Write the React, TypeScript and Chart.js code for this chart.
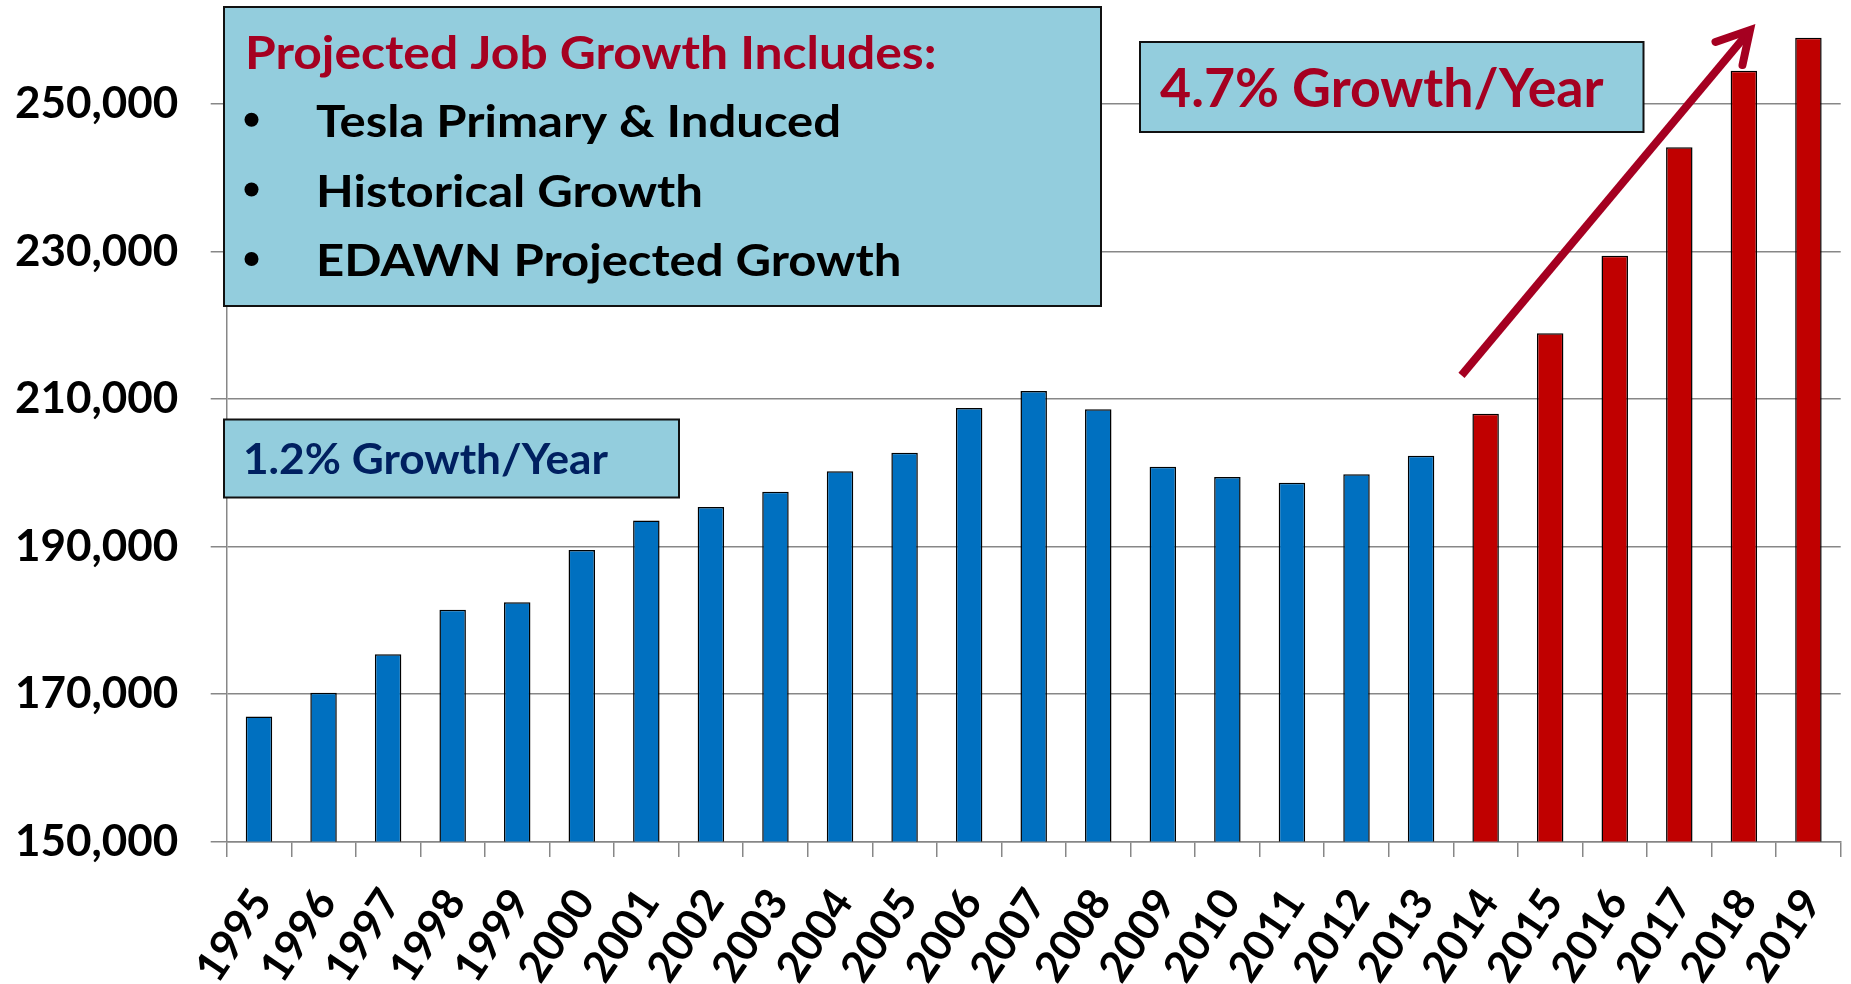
import React, { useEffect, useRef } from 'react';
import { Chart, registerables } from 'chart.js';

Chart.register(...registerables);

// ---- Data ----
const years = [
  '1995', '1996', '1997', '1998', '1999', '2000', '2001', '2002', '2003', '2004',
  '2005', '2006', '2007', '2008', '2009', '2010', '2011', '2012', '2013',
  '2014', '2015', '2016', '2017', '2018', '2019',
];
const historicalJobs = [
  166950, 170180, 175400, 181440, 182430, 189520, 193540, 195360, 197430, 200200,
  202720, 208780, 211090, 208600, 200820, 199420, 198650, 199790, 202310,
];
const projectedJobs = [208000, 218900, 229430, 244130, 254520, 258990];
const yTickValues = [150000, 170000, 190000, 210000, 230000, 250000];
const yMin = 150000;
const yMax = 260000;

// ---- Annotation text ----
const boxTitle = 'Projected Job Growth Includes:';
const boxBullets = ['Tesla Primary & Induced', 'Historical Growth', 'EDAWN Projected Growth'];
const projectedRate = '4.7% Growth/Year';
const historicalRate = '1.2% Growth/Year';

// ---- Styles ----
const FONT = 'Lato';
const blue = '#0070C0';
const red = '#C00000';
const darkRed = '#A50021';
const navy = '#002060';
const boxFill = '#93CDDD';
const gridColor = '#878787';

function drawBox(ctx: CanvasRenderingContext2D, x: number, y: number, w: number, h: number) {
  ctx.fillStyle = boxFill;
  ctx.fillRect(x, y, w, h);
  ctx.strokeStyle = '#111111';
  ctx.lineWidth = 2;
  ctx.strokeRect(x, y, w, h);
}

function drawText(
  ctx: CanvasRenderingContext2D,
  text: string,
  x: number,
  y: number,
  size: number,
  color: string,
  sx: number
) {
  ctx.save();
  ctx.translate(x, y);
  ctx.scale(sx, 1);
  ctx.font = `bold ${size}px ${FONT}`;
  ctx.fillStyle = color;
  ctx.textAlign = 'left';
  ctx.textBaseline = 'alphabetic';
  ctx.fillText(text, 0, 0);
  ctx.restore();
}

const annotationPlugin = {
  id: 'annotations',
  afterDraw(chart: any) {
    const ctx: CanvasRenderingContext2D = chart.ctx;
    ctx.save();

    // Big info box
    drawBox(ctx, 224, 7, 877, 299);
    drawText(ctx, boxTitle, 245, 69, 45, darkRed, 1.106);
    const baselines = [136.7, 206.5, 276];
    boxBullets.forEach((t, i) => {
      ctx.fillStyle = '#000000';
      ctx.beginPath();
      ctx.arc(251.5, baselines[i] - 17, 7, 0, Math.PI * 2);
      ctx.fill();
      drawText(ctx, t, 316, baselines[i], 44, '#000000', 1.115);
    });

    // Historical rate box
    drawBox(ctx, 224, 419.5, 455, 78);
    drawText(ctx, historicalRate, 243, 474, 42.6, navy, 1.037);

    // Projected rate box
    drawBox(ctx, 1140, 42, 503.5, 90);
    drawText(ctx, projectedRate, 1160, 106.5, 53, darkRed, 1.013);

    // Arrow
    const tail = { x: 1461.5, y: 375.4 };
    const tip = { x: 1750, y: 30 };
    ctx.strokeStyle = darkRed;
    ctx.lineWidth = 8;
    ctx.lineCap = 'butt';
    ctx.beginPath();
    ctx.moveTo(tail.x, tail.y);
    ctx.lineTo(tip.x - 3, tip.y + 4);
    ctx.stroke();
    ctx.lineCap = 'round';
    ctx.lineJoin = 'miter';
    ctx.beginPath();
    ctx.moveTo(1715.5, 42);
    ctx.lineTo(tip.x, tip.y);
    ctx.lineTo(1742.5, 65);
    ctx.stroke();

    ctx.restore();
  },
};

export default function App() {
  const canvasRef = useRef<HTMLCanvasElement | null>(null);

  useEffect(() => {
    document.body.style.margin = '0';
    const canvas = canvasRef.current;
    if (!canvas) return;
    const histData = years.map((_, i) => (i < historicalJobs.length ? historicalJobs[i] : null));
    const projData = years.map((_, i) =>
      i >= historicalJobs.length ? projectedJobs[i - historicalJobs.length] : null
    );

    const chart = new Chart(canvas, {
      type: 'bar',
      data: {
        labels: years,
        datasets: [
          {
            label: 'Historical',
            data: histData,
            backgroundColor: blue,
            borderColor: '#000000',
            borderWidth: 1.5,
            barPercentage: 0.41,
            categoryPercentage: 1,
            grouped: false,
          },
          {
            label: 'Projected',
            data: projData,
            backgroundColor: red,
            borderColor: '#000000',
            borderWidth: 1.5,
            barPercentage: 0.41,
            categoryPercentage: 1,
            grouped: false,
          },
        ],
      },
      options: {
        responsive: false,
        animation: false,
        devicePixelRatio: 1,
        layout: { padding: { left: 0, right: 10.3, top: 30.25, bottom: 0 } },
        plugins: { legend: { display: false }, tooltip: { enabled: false } },
        scales: {
          x: {
            grid: {
              display: true,
              drawOnChartArea: false,
              drawTicks: true,
              tickLength: 15.5,
              color: gridColor,
              lineWidth: 1.5,
              offset: true,
            },
            border: { display: true, color: gridColor, width: 1.5 },
            ticks: {
              autoSkip: false,
              minRotation: 56,
              maxRotation: 56,
              padding: 23,
              labelOffset: 3,
              color: '#000000',
              font: { family: FONT, weight: 'bold' as const, size: 43 },
            },
            afterFit: (s: any) => {
              s.height = 142.5;
              s.paddingLeft = 0;
              s.paddingRight = 0;
            },
          },
          y: {
            min: yMin,
            max: yMax,
            afterBuildTicks: (s: any) => {
              s.ticks = yTickValues.map((v) => ({ value: v }));
            },
            grid: { color: gridColor, lineWidth: 1.5, tickLength: 16, drawTicks: true },
            border: { display: true, color: gridColor, width: 1.5 },
            ticks: {
              padding: 32.4,
              color: '#000000',
              font: { family: FONT, weight: 'bold' as const, size: 44 },
              callback: (v: any) => Number(v).toLocaleString('en-US'),
            },
            afterFit: (s: any) => {
              s.width = 226.7;
              s.paddingTop = 0;
              s.paddingBottom = 0;
            },
          },
        },
      },
      plugins: [annotationPlugin],
    });

    let alive = true;
    if ((document as any).fonts && (document as any).fonts.load) {
      (document as any).fonts
        .load(`bold 44px ${FONT}`)
        .then(() => {
          if (alive) chart.update();
        })
        .catch(() => {});
    }
    return () => {
      alive = false;
      chart.destroy();
    };
  }, []);

  return (
    <div style={{ position: 'fixed', left: 0, top: 0, width: 1851, height: 984, background: '#ffffff' }}>
      <canvas ref={canvasRef} width={1851} height={984} style={{ display: 'block', width: 1851, height: 984 }} />
    </div>
  );
}
